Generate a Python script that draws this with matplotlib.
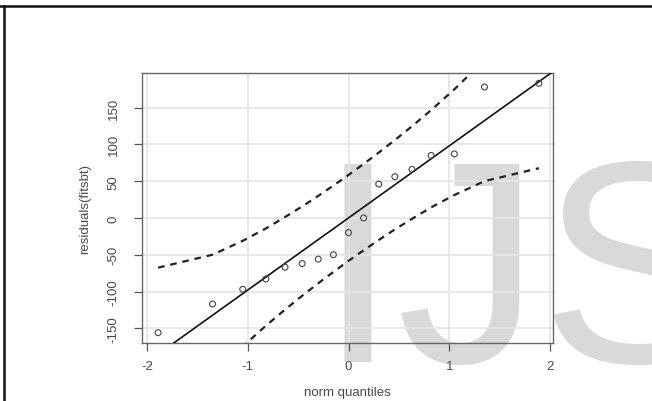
import matplotlib
matplotlib.use("Agg")
import matplotlib.pyplot as plt
from matplotlib.lines import Line2D

plt.rcParams['font.family'] = ['Liberation Sans', 'DejaVu Sans']

# Theoretical normal quantiles (x) and sample residuals (y)
norm_quantiles = [-1.89, -1.35, -1.05, -0.82, -0.63, -0.46, -0.30, -0.15, 0.00,
                  0.15, 0.30, 0.46, 0.63, 0.82, 1.05, 1.35, 1.89]
residuals = [-156, -117, -97, -83, -67, -62, -56, -50, -20,
             0, 46, 56, 66, 85, 87, 178, 183]

# Reference line (qqline)
line_intercept = 0.0
line_slope = 98.0

# Confidence envelope evaluated at the quantiles
upper_env = [-67.6, -50.0, -31.1, -14.3, 1.2, 15.6, 30.0, 44.0, 58.4,
             73.4, 88.8, 105.8, 124.6, 146.5, 174.7, 214.6, 302.8]
lower_env = [-302.8, -214.6, -174.7, -146.5, -124.6, -105.8, -88.8, -73.4, -58.4,
             -44.0, -30.0, -15.6, -1.2, 14.3, 31.1, 50.0, 67.6]

x_ticks = [-2, -1, 0, 1, 2]
y_ticks = [-150, -100, -50, 0, 50, 100, 150]
x_label = "norm quantiles"
y_label = "residuals(fitsbt)"
watermark = "IJS"

W, H = 652, 402
fig = plt.figure(figsize=(W / 100, H / 100), dpi=100)
fig.patch.set_facecolor("white")

ax = fig.add_axes([142 / W, 1 - 344 / H, (553 - 142) / W, (344 - 74) / H])
ax.set_xlim(-2.05, 2.03)
ax.set_ylim(-170, 197)

text_col = "#4a4a4a"
ax.set_xticks(x_ticks)
ax.set_yticks(y_ticks)
ax.set_xticklabels([str(v) for v in x_ticks])
ax.set_yticklabels([str(v) for v in y_ticks], rotation=90, va="center")
ax.tick_params(axis="both", direction="out", length=6, width=0.9, color="#555555",
               labelcolor=text_col, labelsize=9.5)
ax.tick_params(axis="x", pad=6)
ax.tick_params(axis="y", pad=10)

ax.grid(True, color="#e6e6e6", linewidth=1.3)
ax.set_axisbelow(True)
for s in ax.spines.values():
    s.set_color("#666666")
    s.set_linewidth(1.0)

# watermark (beneath grid and tick labels)
ax.text(318, H - 362, watermark, transform=None, fontsize=207, color="#d9d9d9",
        ha="left", va="baseline", zorder=0.2, clip_on=False,
        fontfamily="Liberation Sans")

ax.plot(norm_quantiles, upper_env, color="#222222", lw=1.6, ls=(0, (3, 2.6)), zorder=3)
ax.plot(norm_quantiles, lower_env, color="#222222", lw=1.6, ls=(0, (3, 2.6)), zorder=3)
ax.axline((0, line_intercept), slope=line_slope, color="#111111", lw=1.2, zorder=3)
ax.scatter(norm_quantiles, residuals, s=18, facecolors="none", edgecolors="#444444",
           linewidths=0.8, zorder=4)

ax.set_xlabel(x_label, color=text_col, fontsize=9.5, labelpad=10)
ax.set_ylabel(y_label, color=text_col, fontsize=9.5, labelpad=12)

# figure border (top and left)
fig.add_artist(Line2D([0, 1], [1 - 7 / H, 1 - 7 / H], transform=fig.transFigure,
                      color="#111111", lw=1.8))
fig.add_artist(Line2D([4 / W, 4 / W], [0, 1 - 7 / H], transform=fig.transFigure,
                      color="#111111", lw=1.8))

fig.savefig("out.png", dpi=100, facecolor="white")
